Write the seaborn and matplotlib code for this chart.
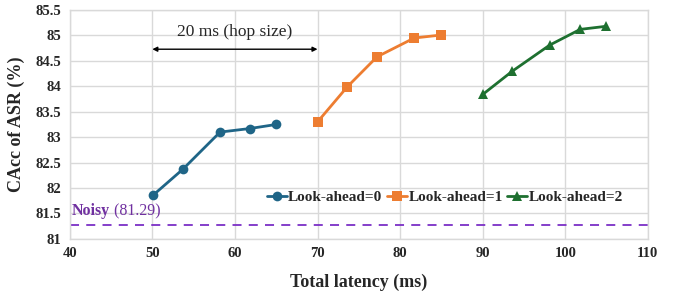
import matplotlib
matplotlib.use("Agg")
import matplotlib.pyplot as plt
import seaborn as sns
import pandas as pd

# values
lat_la0 = [50.1, 53.7, 58.2, 61.8, 65.0]
acc_la0 = [81.86, 82.37, 83.10, 83.17, 83.25]
lat_la1 = [70.0, 73.6, 77.2, 81.7, 85.0]
acc_la1 = [83.30, 83.99, 84.58, 84.95, 85.01]
lat_la2 = [90.0, 93.6, 98.1, 101.8, 104.9]
acc_la2 = [83.84, 84.30, 84.81, 85.12, 85.18]
noisy_acc = 81.27
noisy_label = " (81.29)"
series_names = ["Look-ahead=0", "Look-ahead=1", "Look-ahead=2"]

df = pd.concat([
    pd.DataFrame({"latency": lat_la0, "acc": acc_la0, "series": series_names[0]}),
    pd.DataFrame({"latency": lat_la1, "acc": acc_la1, "series": series_names[1]}),
    pd.DataFrame({"latency": lat_la2, "acc": acc_la2, "series": series_names[2]}),
])

sns.set_style("whitegrid")
plt.rcParams["font.family"] = ["Liberation Serif", "DejaVu Serif"]

fig = plt.figure(figsize=(6.77, 2.96), dpi=100)
ax = fig.add_axes([0.103, 0.193, 0.854, 0.773])

palette = {series_names[0]: "#1f6587", series_names[1]: "#ed7d31", series_names[2]: "#1e7030"}
markers = {series_names[0]: "o", series_names[1]: "s", series_names[2]: "^"}
sns.lineplot(data=df, x="latency", y="acc", hue="series", style="series",
             palette=palette, markers=markers, dashes=False, markersize=7,
             linewidth=2, markeredgewidth=0, ax=ax)

ax.axhline(noisy_acc, color="#7b2fc6", linestyle=(0, (5, 4)), linewidth=1.3)
t = ax.text(40.2, noisy_acc + 0.12, "Noisy", color="#7030a0", fontsize=11.5,
            fontweight="bold", va="bottom", ha="left")
ax.annotate(noisy_label, xy=(1, 0), xycoords=t, color="#7030a0", fontsize=11.5,
            va="bottom", ha="left")

# hop size arrow
ax.annotate("", xy=(50, 84.73), xytext=(70, 84.73),
            arrowprops=dict(arrowstyle="<|-|>", color="black", lw=1,
                            mutation_scale=7, shrinkA=0, shrinkB=0))
ax.text(60, 85.07, "20 ms (hop size)", ha="center", va="center", fontsize=12.5)

ax.set_xlim(40, 110)
ax.set_ylim(81, 85.5)
ax.set_xticks(range(40, 111, 10))
ax.set_yticks([81, 81.5, 82, 82.5, 83, 83.5, 84, 84.5, 85, 85.5])
ax.set_yticklabels(["81", "81.5", "82", "82.5", "83", "83.5", "84", "84.5", "85", "85.5"])
ax.tick_params(labelsize=10.5, length=0, pad=6)
for lab in ax.get_xticklabels() + ax.get_yticklabels():
    lab.set_fontweight("bold")
ax.grid(color="#d9d9d9", linewidth=1)
for s in ax.spines.values():
    s.set_color("#d9d9d9")
    s.set_linewidth(1)

ax.set_xlabel("Total latency (ms)", fontsize=13, fontweight="bold", labelpad=10)
ax.set_ylabel("CAcc of ASR (%)", fontsize=13, fontweight="bold", labelpad=8)

leg = ax.legend(loc="center", bbox_to_anchor=(0.649, 0.183), ncol=3, frameon=False,
                handlelength=1.3, handletextpad=0.1, columnspacing=0.3,
                borderpad=0, prop={"weight": "bold", "size": 11})

fig.savefig("out.png", dpi=100)
